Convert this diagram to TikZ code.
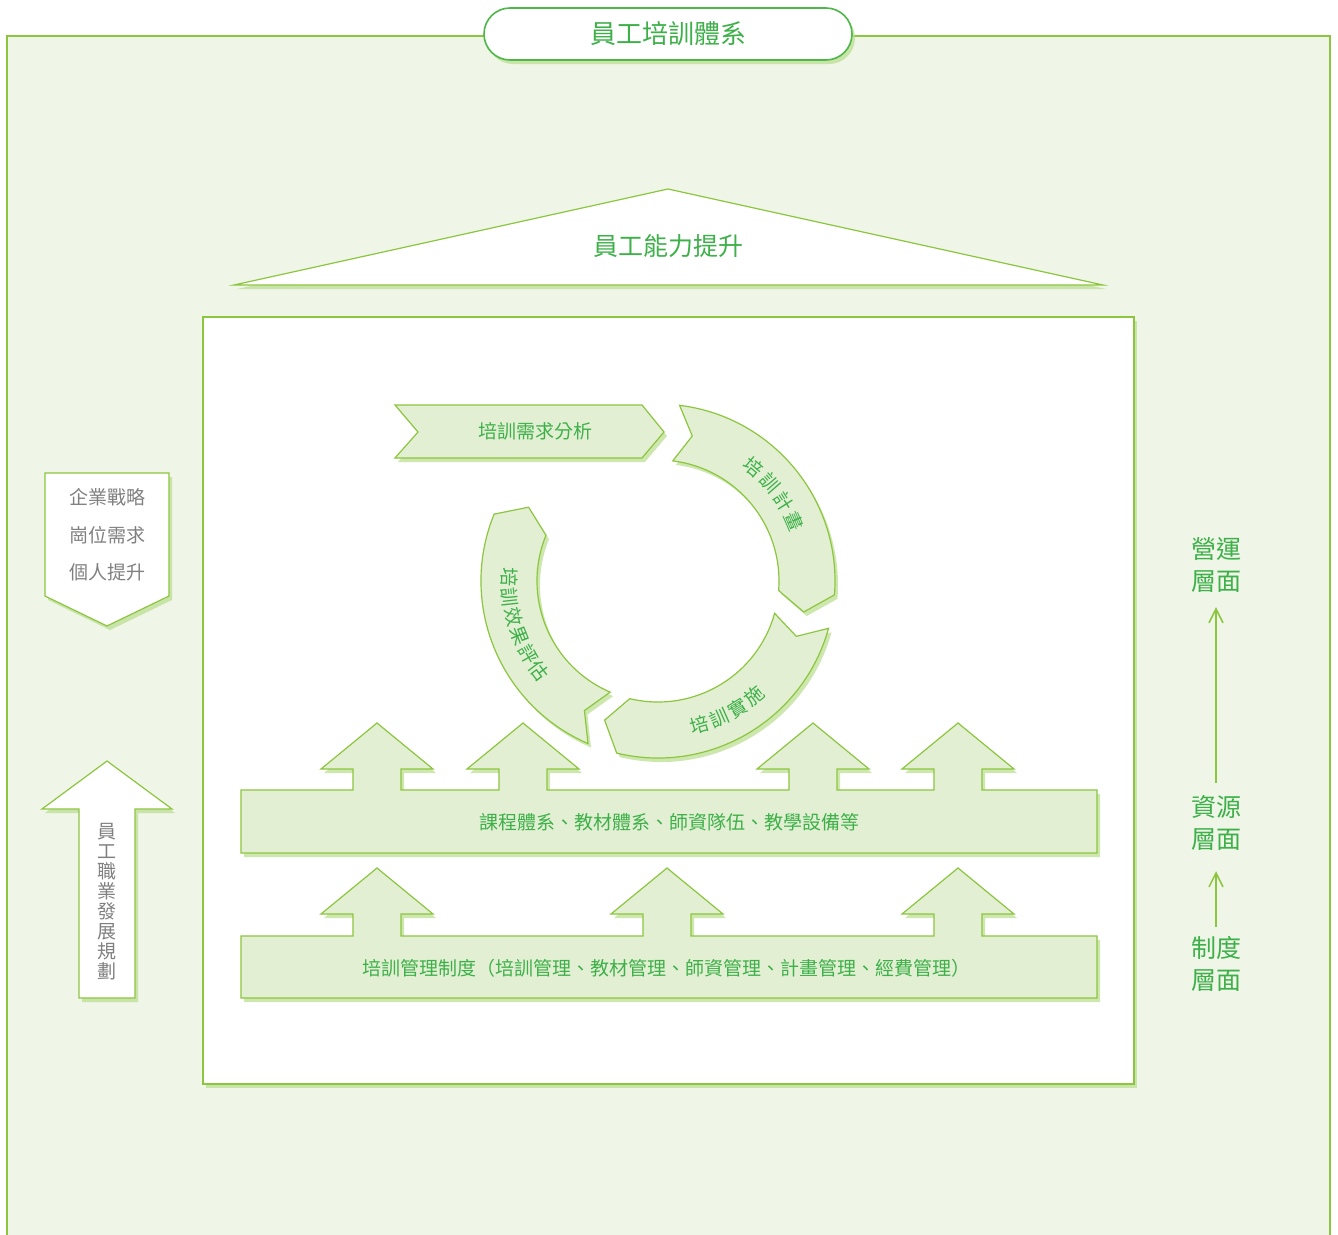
\documentclass[tikz,border=0pt]{standalone}
\usepackage{fontspec}
\setmainfont{Noto Sans CJK TC}
\usetikzlibrary{arrows.meta,shadows}

\definecolor{bggreen}{HTML}{EFF5E7}
\definecolor{linegreen}{HTML}{8CC63F}
\definecolor{boxgreen}{HTML}{E2EFD3}
\definecolor{textgreen}{HTML}{3DB049}
\definecolor{pillgreen}{HTML}{4DB848}
\definecolor{shadegreen}{HTML}{B9DD8E}
\definecolor{textgray}{HTML}{808080}

% one piece of the training cycle, from angle #1 (tail) to angle #2 (head)
\newcommand{\cyclepart}[2]{%
  \draw[panel] (#1:177) arc[start angle=#1, end angle=#2, radius=177]
    -- ({#2-7.5}:149) -- (#2:121) arc[start angle=#2, end angle=#1, radius=121]
    -- ({#1-6.3}:149) -- cycle;}

\begin{document}
\begin{tikzpicture}[x=1pt,y=1pt,
  greenshadow/.style={drop shadow={shadow xshift=3pt,shadow yshift=-4pt,fill=shadegreen,opacity=.7}},
  panel/.style={draw=linegreen,line width=1.2pt,fill=boxgreen,greenshadow},
  whitepanel/.style={draw=linegreen,line width=1.2pt,fill=white,greenshadow},
  greentext/.style={text=textgreen,font=\fontsize{19}{22}\selectfont},
  graytext/.style={text=textgray,font=\fontsize{19}{37.5}\selectfont,align=center},
  leveltext/.style={text=textgreen,font=\fontsize{25}{32}\selectfont,align=center,inner sep=0pt},
  cyclechar/.style={text=textgreen,font=\fontsize{19}{22}\selectfont,inner sep=0pt},
  levelarrow/.style={-{Straight Barb[length=14pt,width=14pt]},draw=linegreen,line width=1.5pt}]

\useasboundingbox (0,0) rectangle (1338,-1234);
\fill[white] (0,0) rectangle (1338,-1234);
\draw[draw=linegreen,line width=2pt,fill=bggreen] (7,-36) rectangle (1330,-1250);

\node (title) at (668,-34) [shape=rectangle, rounded corners=26pt, draw=pillgreen, line width=1.6pt, fill=white, greenshadow, minimum width=368pt, minimum height=52pt, text=textgreen, font=\fontsize{26}{30}\selectfont] {員工培訓體系};

% roof
\draw[whitepanel] (234,-285) -- (668,-189) -- (1103,-285) -- cycle;
\node (goal) at (668,-246) [text=textgreen, font=\fontsize{25}{30}\selectfont] {員工能力提升};

% house body
\draw[draw=linegreen,line width=2pt,fill=white,greenshadow] (203,-317) rectangle (1134,-1084);

% left side
\draw[whitepanel] (45,-473) -- (169,-473) -- (169,-596) -- (107,-626) -- (45,-596) -- cycle;
\node (drivers) at (107,-535) [graytext] {企業戰略\\崗位需求\\個人提升};

\draw[whitepanel] (79,-998) -- (79,-809) -- (42,-809) -- (107,-761) -- (172,-809) -- (135,-809) -- (135,-998) -- cycle;
\node (career) at (107,-902) [text=textgray, font=\fontsize{19}{20}\selectfont, align=center] {員\\工\\職\\業\\發\\展\\規\\劃};

% right side
\node (ops) at (1216,-565) [leveltext] {營運\\層面};
\node (res) at (1216,-823) [leveltext] {資源\\層面};
\node (sys) at (1216,-964) [leveltext] {制度\\層面};
\draw [levelarrow, shorten <=12.5pt, shorten >=14.5pt] (res) -- (ops);
\draw [levelarrow, shorten <=9.5pt, shorten >=20.5pt] (sys) -- (res);

% training cycle
\draw[panel] (395,-405) -- (642,-405) -- (664,-432) -- (642,-458) -- (395,-458) -- (418,-432) -- cycle;
\node (needs) at (535,-431) [greentext] {培訓需求分析};

\begin{scope}[shift={(658,-581)}]
\cyclepart{83}{-4.5}
\cyclepart{-15.5}{-103.5}
\cyclepart{246.7}{157.8}
\foreach \ch [count=\i] in {培,訓,計,畫} {
  \pgfmathsetmacro{\a}{50-(\i-1)*8.8}
  \node (plan\i) [cyclechar, rotate=\a-90] at (\a:149) {\ch};
}
\foreach \ch [count=\i] in {培,訓,實,施} {
  \pgfmathsetmacro{\a}{-74+(\i-1)*8}
  \node (run\i) [cyclechar, rotate=\a+90] at (\a:150) {\ch};
}
\foreach \ch [count=\i] in {培,訓,效,果,評,估} {
  \pgfmathsetmacro{\a}{178.5+(\i-1)*7.7}
  \node (eval\i) [cyclechar, rotate=\a+90] at (\a:149) {\ch};
}
\end{scope}

% resources
\draw[panel] (241,-790) foreach \c in {377,523,813,958} { -- ({\c-24},-790) -- ({\c-24},-769) -- ({\c-56},-769) -- (\c,-723) -- ({\c+56},-769) -- ({\c+24},-769) -- ({\c+24},-790) } -- (1097,-790) -- (1097,-853) -- (241,-853) -- cycle;
\node (resources) at (669,-822) [greentext] {課程體系、教材體系、師資隊伍、教學設備等};

% system
\draw[panel] (241,-936) foreach \c in {377,667,958} { -- ({\c-24},-936) -- ({\c-24},-914) -- ({\c-56},-914) -- (\c,-868) -- ({\c+56},-914) -- ({\c+24},-914) -- ({\c+24},-936) } -- (1097,-936) -- (1097,-998) -- (241,-998) -- cycle;
\node (system) at (666,-968) [greentext] {培訓管理制度（培訓管理、教材管理、師資管理、計畫管理、經費管理）};
\end{tikzpicture}
\end{document}
